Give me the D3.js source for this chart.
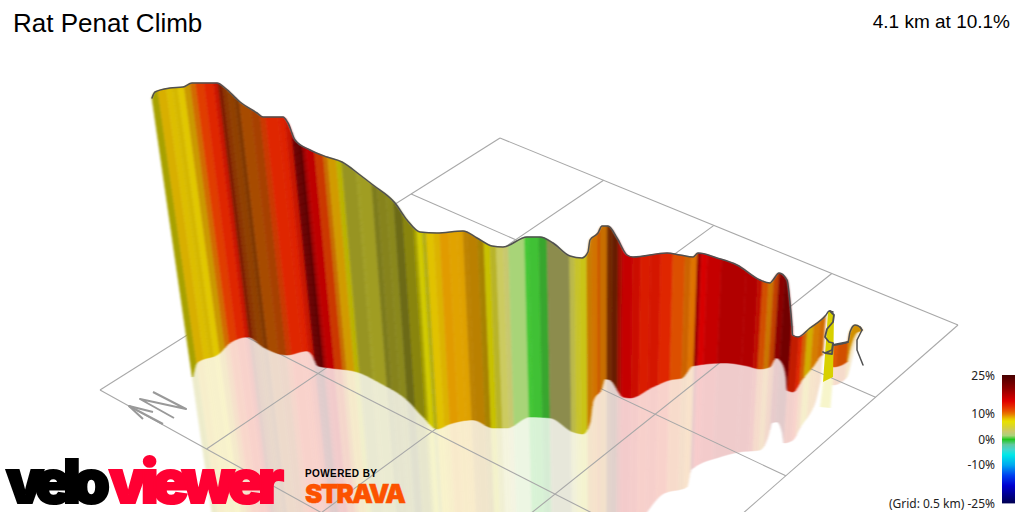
<!DOCTYPE html>
<html><head><meta charset="utf-8">
<style>html,body{margin:0;padding:0;background:#fff}svg{display:block}</style>
<script src="https://cdnjs.cloudflare.com/ajax/libs/d3/7.9.0/d3.min.js"></script>
</head><body><svg id="c" width="1024" height="512"></svg>
<script>
const titleText = "Rat Penat Climb";
const summaryText = "4.1 km at 10.1%";
const gridNote = "(Grid: 0.5 km) ";
const gridKm = [0, 0.5, 1, 1.5, 2];
const legendTicks = [25, 10, 0, -10, -25];
const gradeStops = [25,20,15,13,11,10,9,8,7,5,3,1.5,0,-2,-4,-6,-10,-14,-18,-25];
const gradeHues = ["#4a0000","#8c0000","#e00000","#e62800","#e85800","#e87800","#e8a000","#e8c800","#e8e000","#d8d430","#c8c870","#a8d478","#20c820","#60c8a0","#40d8d0","#00e8e8","#00a8f0","#0040f0","#0000d0","#000050"];

// top edge of the wall
const topEast = [0,30,180,310,400,650,730,880,1050,1110,1310,1360,1430,1580,1750,1900,2080,2210,2430,2550,2680,2850,3110,3250,3400,3510,3750,3880,4010,4180,4300,4360,4380,4460,4500,4560,4650,4750,4810,5150,5280,5410,5460,5650,5850,6080,6180,6210,6270,6350,6380,6400,6405,6460,6580,6740,6770,6810,6815,6960,6980,7030,7080,7100];
const topElev = [414,420,424,425,429,429,424,410,399,395,395,389,372,362,355,350,337,327,309,292,280,279,281,274,266,265,275,275,269,256,254,260,272,279,286,286,274,257,255,259,257,255,259,254,247,232,229,232,239,232,209,185,177,175,184,197,201,200,167,170,180,187,185,182];
// foot of the wall
const footEast = [410,450,680,780,960,1110,1350,1550,1600,1660,1780,2050,2280,2550,2710,2850,2980,3210,3410,3550,3780,3980,4210,4310,4380,4410,4500,4530,4580,4710,4780,5010,5180,5300,5410,5730,5950,6080,6180,6240,6300,6340,6350,6410,6500,6610,6710,6810,6950,6980,7010,7060,7100];
const footElev = [135,149,159,169,175,165,157,161,157,146,144,140,129,112,95,83,88,92,84,84,95,94,80,78,89,110,124,133,132,115,114,125,132,134,146,149,146,143,145,154,149,135,122,120,132,145,157,145,150,162,172,180,181];
// lower edge of the pale reflection
const mirrorEast = [210,2480,4280,4780,4950,5110,5350,5390,5680,5880,6080,6160,6200,6250,6300,6320,6410,6480,6630,6710,6810,6950,6980,7030,7100];
const mirrorElev = [-128,-140,-128,-28,0,18,25,42,55,60,62,75,89,90,80,69,72,84,109,135,127,135,145,167,181];
// gradient stripes: start along the wall, gradient %, lighting of the face
const stripeEast = [284,350,430,490,540,600,660,710,790,880,920,960,1000,1060,1100,1200,1280,1330,1450,1510,1560,1580,1610,1650,1680,1760,1840,1880,1960,2010,2140,2160,2280,2330,2410,2480,2560,2660,2690,2740,2780,2850,2910,3000,3080,3140,3180,3280,3340,3400,3460,3530,3580,3740,3780,3880,3960,4180,4230,4280,4350,4400,4460,4480,4550,4600,4660,4700,4800,4880,4980,5080,5200,5320,5380,5440,5480,5540,5680,5930,6050,6100,6160,6210,6260,6320,6420,6500,6540,6580,6640,6700,6753,6850,6900,7010];
const stripeGrade = [7,8.3,8,8,7.8,8.6,10,12,13,14,12.5,11,10.5,10.5,10.5,11,12,13,13.3,14,15,20,20,16,15,12,9.8,8.7,7,5,5,5,5,5,5,5,6.5,7,7,6,8,8.3,9,8.8,8.8,9,9,8.5,7,5,3.5,3,1.5,0.4,0.4,0.4,3,4,5,6,9.4,9.8,11,9.8,11,12,14,15,14.5,13.6,13.8,13,11.2,10.2,10,15,15,15,15.5,15.5,14,11,9.6,11.5,15.5,17,13.5,13,10.4,8.2,9.6,10,null,10.8,11,9];
const stripeLight = [.72,.93,.95,.92,.97,.87,.9,.97,.97,.88,.55,.6,.62,.55,.72,.72,.88,.97,.97,.88,.48,.75,.68,.78,.85,.88,.86,.9,.8,.7,.74,.74,.58,.62,.64,.5,.6,.72,.9,.8,.97,.95,.97,.97,.96,.82,.8,.72,.86,.85,1,1,1,.98,.95,.82,.7,.9,.92,.9,.86,.9,.88,.86,.5,.45,.72,.88,.9,.95,.93,.97,.95,.88,.96,.7,.96,.88,.82,.82,.84,.9,.87,.83,.64,.6,.85,.97,.9,.9,.92,.9,0,.96,.9,.9];
// the looping end of the route
const loopEast = [6760,6780,6820,6815,6810,6710];
const loopElev = [200,201,197,167,135,130];
const loopMirrorEast = [6710,6810,6785,6680];
const loopMirrorElev = [130,135,104,105];
const loopGrade = 7, loopLight = .93;
const loopLineEast = [6780,6820,6810,6750,6730,6770,6810,6800,6730,6710,6730,6800,6810,6960];
const loopLineElev = [201,197,190,183,175,170,169,162,159,160,159,158,167,170];
const tailEast = [7080,7100,7050,7050,7110];
const tailElev = [185,182,172,162,147];
// north marker
const northEast = [10,340,-120,220];
const northElev = [120,103,113,94];
const arrowEast = [110,-230];
const arrowElev = [88,106];
const arrowHeadEast = [10,-230,-90];
const arrowHeadElev = [100,106,93];

const svg = d3.select("#c");
const defs = svg.append("defs");
defs.append("filter").attr("id","soft").attr("x","-2%").attr("width","104%")
  .append("feGaussianBlur").attr("stdDeviation","0.9 0");
const xS = d3.scaleLinear().domain([0,7200]).range([152,872]);
const yS = d3.scaleLinear().domain([0,512]).range([512,0]);
const gradeColor = d3.scaleLinear().domain(gradeStops).range(gradeHues).interpolate(d3.interpolateRgb).clamp(true);
const shade = (g,l) => { const c = d3.rgb(gradeColor(g)); return d3.rgb(c.r*l,c.g*l,c.b*l).formatHex(); };

// perspective: all verticals run to one vanishing point
const vanishX = xS(4480), vanishY = yS(-2688), refY = yS(217);
const rayX = (s,y) => vanishX + (s-vanishX)*(vanishY-y)/(vanishY-refY);
const smooth = d3.line().curve(d3.curveMonotoneX);
function smoothCurve(east,elev){
  const p = svg.append("path").attr("fill","none").attr("d",smooth(east.map((e,i)=>[xS(e),yS(elev[i])])));
  const n = p.node(), L = n.getTotalLength();
  let last = -1e9; const xs=[], ys=[];
  d3.range(0,L,.4).concat([L]).forEach(l=>{const q=n.getPointAtLength(l); if(q.x>last+1e-3){xs.push(q.x);ys.push(q.y);last=q.x;}});
  p.remove();
  return d3.scaleLinear().domain(xs).range(ys).clamp(true);
}
const topCurve = smoothCurve(topEast,topElev);
const footCurve = smoothCurve(footEast,footElev);
const mirrorCurve = smoothCurve(mirrorEast,mirrorElev);
const hit = (curve,s) => { let x=s,y=curve(x); for(let i=0;i<12;i++){y=curve(x);x=.5*x+.5*rayX(s,y);} return [x,y]; };

const bands = stripeEast.map((e,i)=>({a:xS(e), b:i+1<stripeEast.length?xS(stripeEast[i+1]):xS(7200-70), g:stripeGrade[i], l:stripeLight[i]})).filter(d=>d.g!==null);
bands.forEach(d=>{
  const ss = d3.range(d.a,d.b,.5).concat([d.b]);
  d.top = ss.map(s=>hit(topCurve,s));
  d.foot = ss.map(s=>hit(footCurve,s));
  d.mirror = ss.map(s=>hit(mirrorCurve,s));
  d.color = shade(d.g,d.l);
});
const poly = d3.line();

// reflection
const mirror = svg.append("g").attr("opacity",.2).attr("filter","url(#soft)");
mirror.selectAll("path").data(bands).join("path")
  .attr("d",d=>poly(d.foot.concat(d.mirror.slice().reverse()))+"Z")
  .attr("fill",d=>d.color).attr("stroke",d=>d.color).attr("stroke-width",.6);
mirror.append("path").attr("d",poly(loopMirrorEast.map((e,i)=>[xS(e),yS(loopMirrorElev[i])]))+"Z").attr("fill",shade(loopGrade,loopLight));

// ground grid
const gridCorners = [[500,138],[958,325],[100,390],[580,656]];
function homography(q){
  const [p0,p1,p3,p2]=[q[0],q[1],q[2],q[3]];
  const dx1=p1[0]-p2[0],dx2=p3[0]-p2[0],sx=p0[0]-p1[0]+p2[0]-p3[0];
  const dy1=p1[1]-p2[1],dy2=p3[1]-p2[1],sy=p0[1]-p1[1]+p2[1]-p3[1];
  const D=dx1*dy2-dx2*dy1, g=(sx*dy2-dx2*sy)/D, h=(dx1*sy-sx*dy1)/D;
  const a=p1[0]-p0[0]+g*p1[0], b=p3[0]-p0[0]+h*p3[0], c=p0[0];
  const d=p1[1]-p0[1]+g*p1[1], e=p3[1]-p0[1]+h*p3[1], f=p0[1];
  return (u,v)=>{const w=g*u+h*v+1;return [(a*u+b*v+c)/w,(d*u+e*v+f)/w];};
}
const H = homography(gridCorners);
const kmS = d3.scaleLinear().domain([0,2]).range([0,1]);
const grid = svg.append("g").attr("fill","none").attr("stroke","#a8a8a8").attr("stroke-width",1.1);
gridKm.forEach(k=>{
  grid.append("path").attr("d",poly([H(kmS(k),0),H(kmS(k),1)]));
  grid.append("path").attr("d",poly([H(0,kmS(k)),H(1,kmS(k))]));
});

// wall
svg.append("g").attr("filter","url(#soft)").selectAll("path").data(bands).join("path")
  .attr("d",d=>poly(d.top.concat(d.foot.slice().reverse()))+"Z")
  .attr("fill",d=>d.color).attr("stroke",d=>d.color).attr("stroke-width",.6);
svg.append("path").attr("d",poly(loopEast.map((e,i)=>[xS(e),yS(loopElev[i])]))+"Z").attr("fill",shade(loopGrade,loopLight));

// outline
const edge = d3.line().x(d=>xS(d[0])).y(d=>yS(d[1]));
const smoothEdge = d3.line().curve(d3.curveMonotoneX).x(d=>xS(d[0])).y(d=>yS(d[1]));
const pts = topEast.map((e,i)=>[e,topElev[i]]);
const outline = svg.append("g").attr("fill","none").attr("stroke","#505050").attr("stroke-width",1.5).attr("stroke-linejoin","round").attr("stroke-linecap","round");
outline.append("path").attr("d",smoothEdge(pts.slice(0,58)));
outline.append("path").attr("d",smoothEdge(pts.slice(58)));
outline.append("path").attr("d",edge(loopLineEast.map((e,i)=>[e,loopLineElev[i]]))).attr("stroke-width",1.8);
outline.append("path").attr("d",edge(tailEast.map((e,i)=>[e,tailElev[i]])));

// north marker
const north = svg.append("g").attr("fill","none").attr("stroke","#999").attr("stroke-width",2).attr("stroke-linejoin","round");
[[northEast,northElev],[arrowEast,arrowElev],[arrowHeadEast,arrowHeadElev]].forEach(([e,h])=>north.append("path").attr("d",edge(e.map((v,i)=>[v,h[i]]))));

// legend
const legY = d3.scaleLinear().domain([25,-25]).range([375,503]);
svg.append("g").selectAll("rect").data(d3.range(25,-25,-50/128)).join("rect")
  .attr("x",1002).attr("width",13).attr("y",d=>legY(d)).attr("height",1.4).attr("fill",d=>gradeColor(d));
const legFont = "'Noto Sans',sans-serif";
svg.append("g").selectAll("text").data(legendTicks).join("text")
  .attr("x",995).attr("y",d=>legY(d)+4.5).attr("text-anchor","end")
  .attr("font-family",legFont).attr("font-size",12).attr("fill","#222")
  .text(d=>(d===-25?gridNote:"")+d+"%");

// titles
svg.append("text").attr("x",13).attr("y",32).attr("font-family","'Liberation Sans',Arial,sans-serif").attr("font-size",26).attr("fill","#000").text(titleText);
svg.append("text").attr("x",1010).attr("y",28).attr("text-anchor","end").attr("font-family","'Liberation Sans',Arial,sans-serif").attr("font-size",19).attr("fill","#000").text(summaryText);

// branding
function fitted(t,target){ const n=t.node(); const w=n.getComputedTextLength(); t.attr("letter-spacing",(target-w)/(t.text().length-1)); return t; }
const logo = svg.append("g").attr("font-family","Inter,Lato,sans-serif").attr("font-weight",900).attr("font-size",60).attr("stroke-width",2);
fitted(logo.append("text").attr("x",6).attr("y",503).attr("fill","#000").attr("stroke","#000").text("velo"),104);
fitted(logo.append("text").attr("x",109).attr("y",503).attr("fill","#ff0033").attr("stroke","#ff0033").text("viewer"),175);
svg.append("text").attr("x",305).attr("y",477).attr("font-family","'Liberation Sans',sans-serif").attr("font-weight",700).attr("font-size",10).attr("letter-spacing",.4).attr("fill","#000").text("POWERED BY");
fitted(svg.append("text").attr("x",305).attr("y",503).attr("font-family","Inter,Roboto,sans-serif").attr("font-weight",900).attr("font-size",26).attr("fill","#fc5200").attr("stroke","#fc5200").attr("stroke-width",.5).text("STRAVA"),101);
</script></body></html>
